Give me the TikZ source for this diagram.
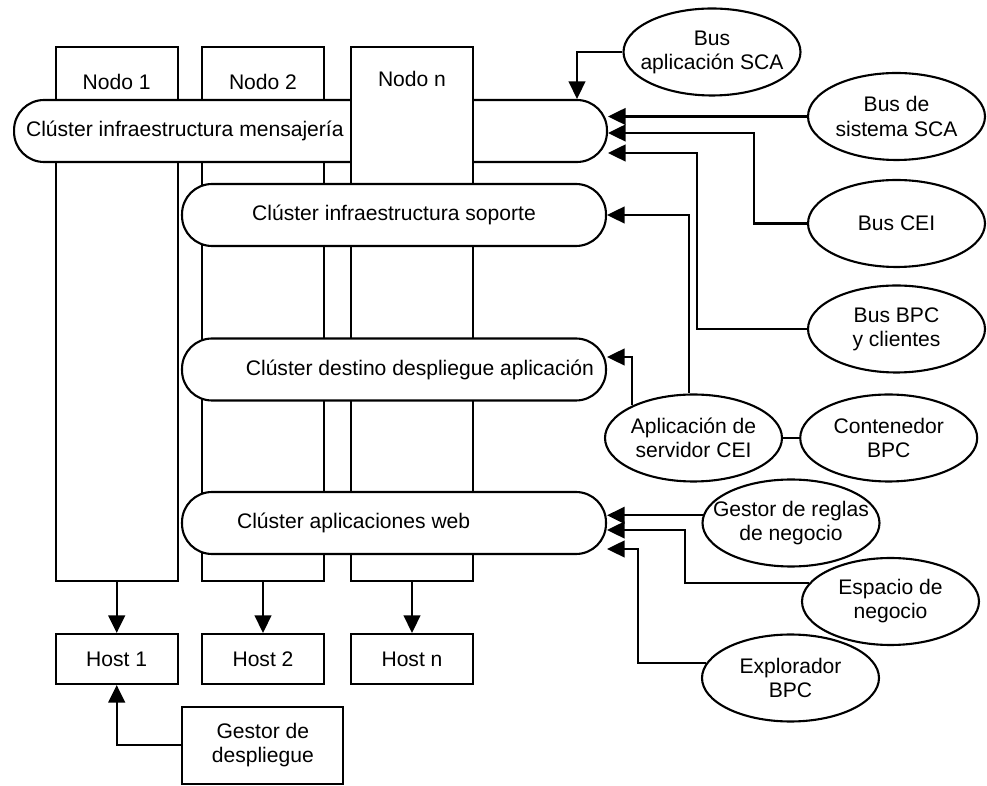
\documentclass[tikz,border=0pt]{standalone}
\usepackage{fontspec}
\setmainfont{Liberation Sans}
\usetikzlibrary{arrows.meta,shapes.geometric}

\begin{document}
\begin{tikzpicture}[x=0.02cm,y=-0.02cm,
  line width=1.2pt,
  font=\fontsize{12}{13.7}\selectfont,
  every label/.append style={inner sep=0pt, align=center},
  arr/.style={-{Triangle[length=10pt,width=9.5pt]}},
  nodecol/.style={draw, fill=white, minimum width=2.44cm, minimum height=10.68cm},
  hostbox/.style={draw, fill=white, minimum width=2.44cm, minimum height=1cm},
  cluster/.style={draw, fill=white, rounded corners=0.6cm, minimum width=8.48cm, minimum height=1.24cm},
  comp/.style={draw, fill=white, ellipse, minimum width=3.54cm, minimum height=1.74cm, inner sep=0pt}]
\useasboundingbox (0,0) rectangle (987,786);

% Nodes of the cell and the clusters across them
\node[nodecol, label={[anchor=center, yshift=-0.72cm]north:Nodo 1}] (nodo1) at (116.7,314) {};
\node[nodecol, label={[anchor=center, yshift=-0.72cm]north:Nodo 2}] (nodo2) at (263,314) {};
\node[cluster, minimum width=11.86cm,
  label={[anchor=west, xshift=0.24cm]west:Clúster infraestructura mensajería}] (msg) at (310.5,131) {};
\node[nodecol, label={[anchor=center, yshift=-0.66cm]north:Nodo n}] (nodon) at (412,314) {};
\node[cluster, label=center:Clúster infraestructura soporte] (sop) at (394,215) {};
\node[cluster, label={[anchor=east, xshift=-0.24cm]east:Clúster destino despliegue aplicación}] (dest) at (394,369.5) {};
\node[cluster, label={[anchor=west, xshift=1.1cm]west:Clúster aplicaciones web}] (web) at (394,523) {};

% Hosts
\node[hostbox] (host1) at (116.7,659) {Host 1};
\node[hostbox] (host2) at (263,659) {Host 2};
\node[hostbox] (hostn) at (412,659) {Host n};
\node[draw, fill=white, minimum width=3.22cm, minimum height=1.54cm, align=center] (gestor) at (262.8,745.3) {Gestor de\\despliegue};

\foreach \n in {1,2,n}
  \draw[arr] (nodo\n.south) -- (host\n.north);
\draw[arr] (gestor.west) -| (host1.south);

% Components
\node[comp, label={center:Bus\\aplicación SCA}] (busapp) at (712,52) {};
\node[comp, label={center:Bus de\\sistema SCA}] (bussis) at (896.5,116.5) {};
\node[comp, label={center:Bus CEI}] (buscei) at (896.5,223.5) {};
\node[comp, label={center:Bus BPC\\y clientes}] (busbpc) at (896.5,329) {};
\node[comp, label={center:Aplicación de\\servidor CEI}] (aplcei) at (693.5,438) {};
\node[comp, label={center:Contenedor\\BPC}] (contbpc) at (888.7,438) {};
\node[comp, label={center:Gestor de reglas\\de negocio}] (reglas) at (791,523) {};
\node[comp, label={center:Espacio de\\negocio}] (espacio) at (890.5,601.5) {};
\node[comp, label={center:Explorador\\BPC}] (explor) at (790.5,678) {};

\draw[arr] (busapp.west) -| ([xshift=-0.62cm]msg.north east);
\draw[arr] (bussis.west) -- (bussis.west -| msg.east);
\draw[arr] (buscei.west) -- ++(-53,0) |- ([yshift=-0.04cm]msg.east);
\draw[arr] (busbpc.west) -- ++(-110,0) |- ([yshift=-0.44cm]msg.east);
\draw[arr] ([xshift=-0.09cm]aplcei.north) |- (sop.east);
\draw[arr] (aplcei.152) |- ([yshift=0.25cm]dest.east);
\draw (aplcei) -- (contbpc);
\draw[arr] (reglas.175) -- (reglas.175 -| web.east);
\draw[arr] (espacio.167) -- ++(-124,0) |- ([yshift=-0.14cm]web.east);
\draw[arr] (explor.170) -- ++(-68,0) |- ([yshift=-0.52cm]web.east);
\end{tikzpicture}
\end{document}
